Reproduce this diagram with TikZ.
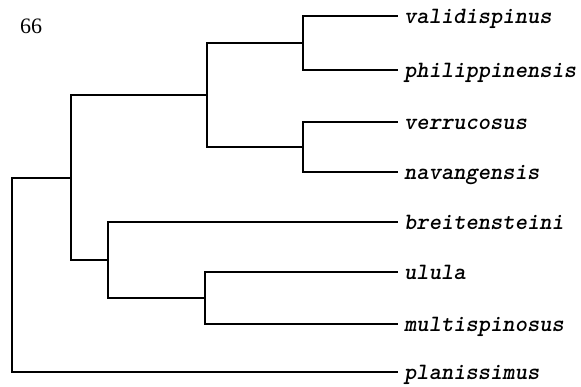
\documentclass[tikz,border=0pt]{standalone}
\usepackage{fontspec}
\setmainfont{Liberation Serif}
\begin{document}
\begin{tikzpicture}[x=1pt,y=-1pt,
  branch/.style={line width=2pt,line cap=rect,line join=miter},
  taxon/.style={anchor=base west,inner sep=0pt,xshift=7pt,yshift=-7.5pt,font=\ttfamily\bfseries\slshape\fontsize{23.4}{25}\selectfont},
  tag/.style={inner sep=0pt,font=\fontsize{22}{24}\selectfont}]
\useasboundingbox (0,0) rectangle (581,387);
% leaf tips
\coordinate (tv) at (397,16);
\coordinate (tp) at (397,70);
\coordinate (tr) at (397,122);
\coordinate (tn) at (397,172);
\coordinate (tb) at (397,222);
\coordinate (tu) at (397,272);
\coordinate (tm) at (397,324);
\coordinate (tl) at (397,372);
% internal nodes
\coordinate (D) at (303,43);
\coordinate (E) at (303,147);
\coordinate (B) at (207,95);
\coordinate (F) at (205,298);
\coordinate (C) at (108,260);
\coordinate (A) at (71,178);
\coordinate (R) at (12,275);
% branches
\draw[branch] (tv) -| (D) |- (tp);
\draw[branch] (tr) -| (E) |- (tn);
\draw[branch] (D) -| (B) |- (E);
\draw[branch] (tu) -| (F) |- (tm);
\draw[branch] (tb) -| (C) |- (F);
\draw[branch] (B) -| (A) |- (C);
\draw[branch] (A) -| (R) |- (tl);
% labels
\node[taxon] (nv) at (tv) {validispinus};
\node[taxon] (np) at (tp) {philippinensis};
\node[taxon] (nr) at (tr) {verrucosus};
\node[taxon] (nn) at (tn) {navangensis};
\node[taxon] (nb) at (tb) {breitensteini};
\node[taxon] (nu) at (tu) {ulula};
\node[taxon] (nm) at (tm) {multispinosus};
\node[taxon] (nl) at (tl) {planissimus};
\node[tag] (num) at (31,26) {66};
\end{tikzpicture}
\end{document}
